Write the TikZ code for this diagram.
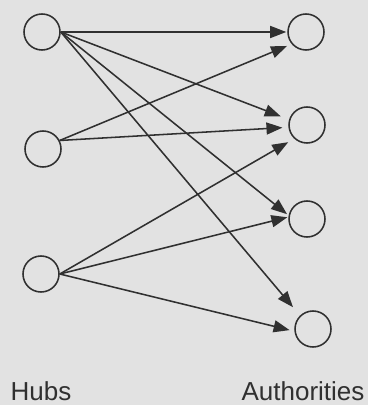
\documentclass[tikz,border=0pt]{standalone}
\usepackage{fontspec}
\setmainfont{Liberation Sans}
\usetikzlibrary{arrows.meta}
\definecolor{paper}{RGB}{226,226,226}
\definecolor{ink}{RGB}{48,48,48}
\begin{document}
\begin{tikzpicture}[x=0.025cm, y=-0.025cm, line width=1.1pt,
  vertex/.style={circle, draw=ink, inner sep=0pt, minimum size=0.9cm},
  link/.style={draw=ink, -{Triangle[length=0.4cm, width=0.3cm]}},
  every node/.style={font=\fontsize{18.5}{22}\selectfont}]
  \fill[paper] (0,0) rectangle (368,405);
  \useasboundingbox (0,0) rectangle (368,405);
  \node[vertex] (H1) at (42,32) {};
  \node[vertex] (H2) at (43,149) {};
  \node[vertex] (H3) at (41,274) {};
  \node[vertex] (A1) at (306,32) {};
  \node[vertex] (A2) at (307,125) {};
  \node[vertex] (A3) at (307,219) {};
  \node[vertex] (A4) at (313,329) {};
  \foreach \h/\a/\ang/\gap in {H1/A1/180/1, H1/A2/163/9, H1/A3/169/2, H1/A4/134/11,
                               H3/A2/227/7, H3/A3/174/1, H3/A4/187/5}
    \draw[link, shorten >=\gap*0.7pt] (\h.east) -- (\a.\ang);
  \foreach \a/\ang/\gap in {A1/220/5, A2/187/6}
    \draw[link, shorten >=\gap*0.7pt] (H2.27) -- (\a.\ang);
  \node[anchor=base, text=ink, inner sep=1pt] (hubs) at (41,400) {Hubs};
  \node[anchor=base, text=ink, inner sep=1pt] (auth) at (303,400) {Authorities};
\end{tikzpicture}
\end{document}
